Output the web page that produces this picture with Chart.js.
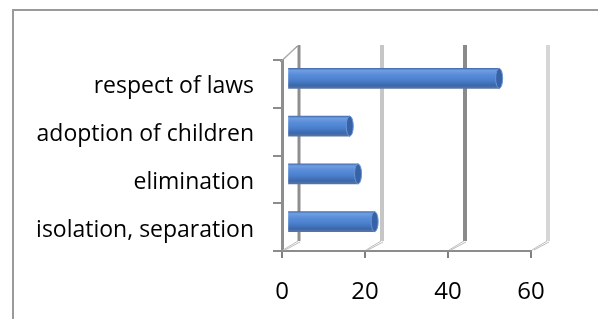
<!DOCTYPE html>
<html>
<head>
<meta charset="utf-8">
<script src="https://cdn.jsdelivr.net/npm/chart.js@4/dist/chart.umd.min.js"></script>
<style>
  html, body { margin: 0; padding: 0; background: #fff; }
  #wrap { width: 598px; height: 319px; }
</style>
</head>
<body>
<div id="wrap"><canvas id="barChart"></canvas></div>
<script>
// data
var categories = ['respect of laws', 'adoption of children', 'elimination', 'isolation, separation'];
var values = [51, 15, 17, 21];
var xTicks = [0, 20, 40, 60];

// 3D look: depth offset of the back wall, and bars sit half way in
var DEPTH_X = 17, DEPTH_TOP = -15, DEPTH_BOT = -10;
var BAR_DX = 5.5, BAR_DY = -5.5;
var BAR_H = 20;

var wallPlugin = {
    id: 'wall3d',
    beforeDraw: function(chart) {
        var c = chart.ctx;
        c.save();
        c.fillStyle = '#fff';
        c.fillRect(0, 0, chart.width, chart.height);
        // outer frame
        c.strokeStyle = '#9a9a9a';
        c.lineWidth = 2;
        c.beginPath();
        c.moveTo(13, chart.height);
        c.lineTo(13, 10);
        c.lineTo(chart.width, 10);
        c.stroke();
        c.restore();
    },
    beforeDatasetsDraw: function(chart) {
        var c = chart.ctx, xs = chart.scales.x, a = chart.chartArea;
        var cols = ['#8e8e8e', '#c6c6c6', '#8a8a8a', '#d6d6d6'];
        c.save();
        xTicks.forEach(function(v, i) {
            var xf = xs.getPixelForValue(v);
            var xb = xf + DEPTH_X;
            // back wall line
            c.strokeStyle = cols[i];
            c.lineWidth = i == 0 ? 3 : 4;
            c.beginPath();
            c.moveTo(xb, a.top + DEPTH_TOP);
            c.lineTo(xb, a.bottom + DEPTH_BOT);
            c.stroke();
            // floor diagonal (double line)
            c.lineWidth = 1;
            c.strokeStyle = '#bdbdbd';
            c.beginPath();
            c.moveTo(xf + 1, a.bottom - 1);
            c.lineTo(xb - 1, a.bottom + DEPTH_BOT);
            c.moveTo(xf + 3, a.bottom - 1);
            c.lineTo(xb + 1, a.bottom + DEPTH_BOT + 1);
            c.stroke();
        });
        // top of the side wall
        c.strokeStyle = '#a0a0a0';
        c.lineWidth = 1;
        c.beginPath();
        c.moveTo(a.left, a.top + 1);
        c.lineTo(a.left + DEPTH_X, a.top + DEPTH_TOP);
        c.moveTo(a.left - 2, a.top + 2);
        c.lineTo(a.left + DEPTH_X - 2, a.top + DEPTH_TOP + 1);
        c.stroke();
        c.restore();
        // bars drawn half way into the depth
        c.save();
        c.translate(BAR_DX, BAR_DY);
    },
    afterDatasetsDraw: function(chart) {
        var c = chart.ctx;
        // end caps of the cylinders
        chart.getDatasetMeta(0).data.forEach(function(bar) {
            var h = bar.height / 2;
            c.beginPath();
            c.ellipse(bar.x, bar.y, 3.5, h, 0, 0, Math.PI * 2);
            c.fillStyle = '#3763a6';
            c.fill();
            c.strokeStyle = '#6a95d6';
            c.lineWidth = 1;
            c.stroke();
        });
        c.restore();
    }
};

var ctx = document.getElementById('barChart').getContext('2d');

function barGradient(context) {
    var chart = context.chart;
    var ys = chart.scales && chart.scales.y;
    if (!ys || context.dataIndex === undefined) return '#4f81bd';
    var mid = ys.getPixelForValue(context.dataIndex);
    if (!isFinite(mid)) return '#4f81bd';
    var g = chart.ctx.createLinearGradient(0, mid - BAR_H / 2, 0, mid + BAR_H / 2);
    g.addColorStop(0, '#4a6fae');
    g.addColorStop(0.1, '#6f9ee2');
    g.addColorStop(0.3, '#5a8edb');
    g.addColorStop(0.6, '#4a7fcc');
    g.addColorStop(0.85, '#3b68ab');
    g.addColorStop(1, '#5a74a2');
    return g;
}

var config = {
    type: 'bar',
    data: {
        labels: categories,
        datasets: [{
            data: values,
            backgroundColor: barGradient,
            borderWidth: 0,
            barThickness: BAR_H
        }]
    },
    options: {
        indexAxis: 'y',
        responsive: true,
        maintainAspectRatio: false,
        animation: false,
        events: [],
        layout: { padding: { top: 60, right: 67, bottom: 0, left: 0 } },
        plugins: {
            legend: { display: false },
            tooltip: { enabled: false }
        },
        scales: {
            x: {
                min: 0,
                max: 60,
                afterFit: function(scale) { scale.height = 68; },
                ticks: {
                    stepSize: 20,
                    padding: 20,
                    color: '#000',
                    font: { family: 'Open Sans', size: 24 }
                },
                grid: { drawOnChartArea: false, tickLength: 7, color: '#808080', lineWidth: 2 },
                border: { display: true, color: '#8c8c8c', width: 2 }
            },
            y: {
                afterFit: function(scale) { scale.width = 282; },
                ticks: {
                    padding: 19,
                    labelOffset: 3,
                    color: '#000',
                    font: { family: 'Open Sans', size: 23 }
                },
                grid: { drawOnChartArea: false, tickLength: 9, color: '#8c8c8c', lineWidth: 2 },
                border: { display: true, color: '#8e8e8e', width: 3 }
            }
        }
    },
    plugins: [wallPlugin]
};

var barChart = new Chart(ctx, config);
</script>
</body>
</html>
